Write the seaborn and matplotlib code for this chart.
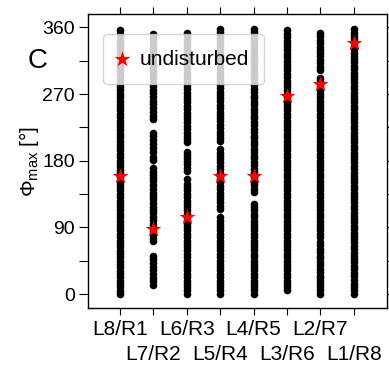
import numpy as np
import pandas as pd
import matplotlib
matplotlib.use("Agg")
import matplotlib.pyplot as plt
import seaborn as sns

sns.set_style("ticks")
plt.rcParams['font.family'] = ['Liberation Sans', 'DejaVu Sans']
plt.rcParams['mathtext.fontset'] = 'custom'
plt.rcParams['mathtext.rm'] = 'Liberation Sans'
plt.rcParams['mathtext.it'] = 'Liberation Sans:italic'
for k in ['text.color', 'axes.labelcolor', 'xtick.color', 'ytick.color', 'axes.edgecolor']:
    plt.rcParams[k] = 'black'

pairs = ["L8/R1", "L7/R2", "L6/R3", "L5/R4", "L4/R5", "L3/R6", "L2/R7", "L1/R8"]

phi_L8R1 = [0, 4, 9, 13, 18, 23, 27, 31, 36, 41, 45, 50, 54, 58, 63, 68, 72, 77, 81, 86,
            90, 95, 99, 104, 108, 113, 117, 122, 126, 131, 135, 140, 144, 149, 153, 158,
            163, 167, 171, 176, 180, 185, 189, 194, 198, 203, 207, 212, 216, 221, 225,
            230, 234, 239, 243, 248, 252, 257, 261, 266, 270, 275, 279, 284, 288, 293,
            297, 302, 306, 311, 315, 320, 324, 329, 333, 338, 342, 347, 351, 357]
phi_L7R2 = [12, 17, 22, 27, 32, 37, 42, 47, 52, 71, 76, 80, 85, 90, 95, 100, 104, 109,
            114, 118, 123, 128, 133, 137, 142, 147, 152, 156, 161, 165, 170, 181, 185,
            192, 197, 203, 208, 213, 218, 236, 241, 246, 251, 256, 261, 266, 271, 276,
            281, 286, 291, 296, 301, 306, 311, 316, 321, 326, 331, 336, 341, 346, 351]
phi_L6R3 = [0, 5, 9, 14, 18, 23, 27, 32, 36, 41, 45, 50, 54, 59, 63, 68, 72, 77, 81, 86,
            90, 95, 99, 104, 108, 113, 117, 122, 126, 131, 135, 140, 144, 149, 155,
            166, 170, 175, 179, 184, 188, 192, 205, 209, 214, 218, 223, 227, 232, 236,
            241, 245, 250, 254, 259, 263, 268, 272, 277, 281, 286, 290, 295, 299, 304,
            308, 313, 317, 322, 326, 331, 335, 340, 344, 349, 353]
phi_L5R4 = [0, 5, 9, 14, 18, 23, 27, 32, 36, 41, 45, 50, 54, 59, 63, 68, 72, 77, 81, 86,
            90, 95, 99, 104, 115, 119, 124, 128, 133, 137, 142, 146, 151, 155, 160, 164,
            169, 173, 178, 182, 187, 191, 196, 206, 210, 215, 219, 224, 228, 233, 237,
            242, 246, 251, 255, 260, 264, 269, 273, 278, 282, 287, 291, 296, 300, 305,
            309, 314, 318, 323, 327, 332, 336, 341, 345, 350, 354, 358]
phi_L4R5 = [0, 5, 9, 14, 18, 23, 27, 32, 36, 41, 45, 50, 54, 59, 63, 68, 72, 77, 81, 86,
            90, 95, 99, 104, 108, 113, 117, 122, 138, 142, 147, 151, 156, 160, 165, 169,
            174, 178, 183, 187, 192, 196, 201, 205, 210, 214, 219, 223, 228, 232, 237,
            241, 246, 250, 255, 259, 264, 268, 273, 277, 282, 286, 291, 295, 300, 304,
            309, 313, 318, 322, 327, 331, 336, 340, 345, 349, 354, 358]
phi_L3R6 = [5, 9, 14, 18, 23, 27, 32, 36, 41, 45, 50, 54, 59, 63, 68, 72, 77, 81, 86,
            90, 95, 99, 104, 108, 113, 117, 122, 126, 131, 135, 140, 144, 149, 153, 158,
            162, 167, 171, 176, 180, 185, 189, 194, 198, 203, 207, 212, 216, 221, 225,
            230, 234, 239, 243, 248, 252, 257, 261, 266, 270, 275, 279, 284, 288, 293,
            297, 302, 306, 311, 315, 320, 324, 329, 333, 338, 342, 347, 351, 356]
phi_L2R7 = [0, 5, 9, 13, 17, 21, 25, 30, 34, 39, 43, 48, 52, 57, 61, 66, 70, 77, 81, 86,
            90, 95, 99, 104, 108, 113, 117, 122, 126, 131, 135, 140, 144, 149, 153, 158,
            162, 167, 171, 176, 180, 185, 189, 194, 198, 203, 207, 212, 216, 221, 225,
            230, 234, 239, 243, 248, 252, 257, 261, 266, 270, 275, 279, 284, 288, 292,
            303, 307, 312, 316, 321, 325, 330, 334, 339, 343, 348, 352]
phi_L1R8 = [0, 5, 9, 14, 19, 25, 29, 34, 38, 43, 47, 52, 56, 61, 65, 70, 74, 79, 83, 88,
            92, 97, 101, 106, 110, 115, 119, 124, 128, 133, 137, 142, 146, 151, 155, 160,
            164, 169, 173, 178, 182, 187, 191, 196, 200, 205, 209, 214, 218, 223, 227,
            232, 236, 241, 245, 250, 254, 259, 263, 268, 272, 277, 281, 286, 290, 295,
            299, 304, 308, 313, 317, 322, 326, 331, 335, 340, 344, 349, 353, 358]

undisturbed = [160, 88, 104, 159, 160, 268, 284, 339]

yticks = [0, 45, 90, 135, 180, 225, 270, 315, 360]
yticklabels = ["0", "", "90", "", "180", "", "270", "", "360"]

series = [phi_L8R1, phi_L7R2, phi_L6R3, phi_L5R4, phi_L4R5, phi_L3R6, phi_L2R7, phi_L1R8]
df = pd.DataFrame({
    "pair": np.concatenate([[p] * len(v) for p, v in zip(pairs, series)]),
    "phi": np.concatenate(series),
})
df_star = pd.DataFrame({"pair": pairs, "phi": undisturbed})

fig = plt.figure(figsize=(3.89, 3.69), dpi=100)
ax = fig.add_axes([0.226, 0.165, 0.769, 0.797])

sns.stripplot(data=df, x="pair", y="phi", order=pairs, jitter=False, color="black",
              size=5.5, linewidth=0, ax=ax, zorder=2)
sns.stripplot(data=df_star, x="pair", y="phi", order=pairs, jitter=False, color="red",
              marker="*", size=12, linewidth=0, ax=ax, zorder=3)

ax.set_xlim(-0.96, 8.0)
ax.set_ylim(-19, 378)
ax.set_yticks(yticks)
ax.set_yticklabels(yticklabels, fontsize=14)
ax.set_xticks(range(len(pairs)))
ax.set_xticklabels(pairs, fontsize=15)
ax.tick_params(axis="y", direction="out", length=6.5, width=0.8, right=True, color="black", pad=3)
ax.tick_params(axis="x", direction="out", length=5, width=0.8, top=True, color="black")
for i, t in enumerate(ax.xaxis.get_major_ticks()):
    t.set_pad(3.6 if i % 2 == 0 else 21.6)
ax.set_xlabel("")
ax.set_ylabel(r"$\Phi_{\mathrm{max}}$ [°]", fontsize=15, labelpad=1)
for s in ax.spines.values():
    s.set_color("black")
    s.set_linewidth(1)

star_handle = ax.collections[-1]
ax.legend([star_handle], ["undisturbed"], loc="upper left", fontsize=15,
          bbox_to_anchor=(0.05, 0.932), borderaxespad=0, borderpad=0.75,
          handletextpad=0.7, handlelength=0.3, framealpha=0.8, markerscale=1.0)

fig.text(0.072, 0.815, "C", fontsize=20)

fig.savefig("out.png", dpi=100)
